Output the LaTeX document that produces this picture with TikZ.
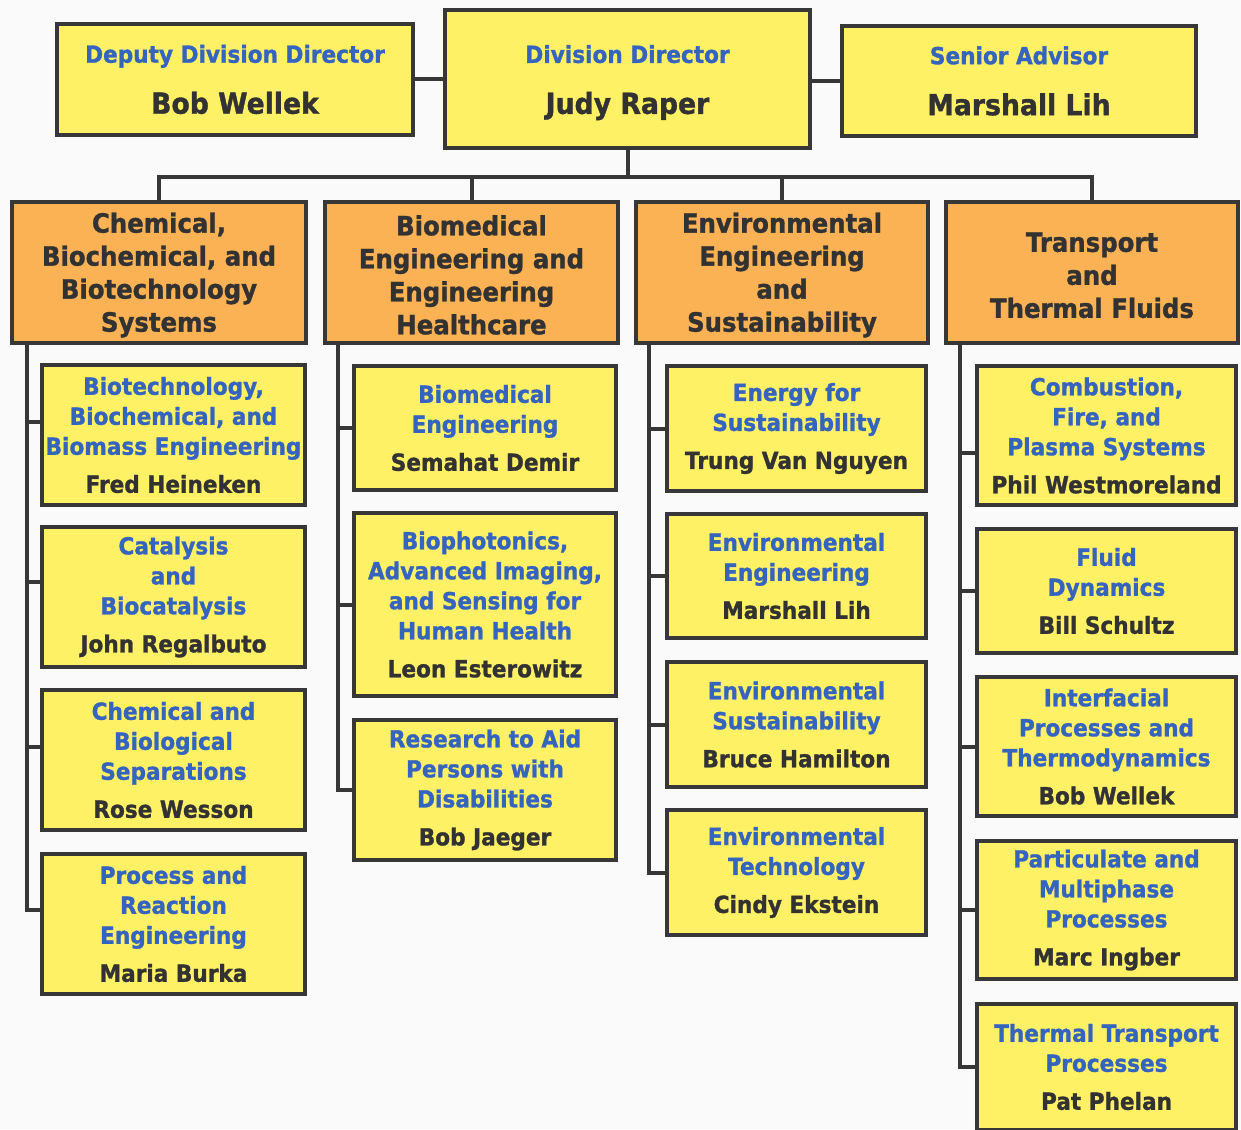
\documentclass[tikz,border=0pt]{standalone}
\usepackage{fontspec}
\setmainfont{DejaVu Sans}[FakeStretch=0.92, BoldFeatures={FakeBold=1.2}]
\definecolor{yel}{RGB}{255,241,102}
\definecolor{ora}{RGB}{250,178,84}
\definecolor{bluet}{RGB}{52,100,190}
\definecolor{darkt}{RGB}{50,50,50}
\definecolor{linec}{RGB}{55,55,55}
\definecolor{bgc}{RGB}{250,250,250}
\newcommand\ttl[1]{\textcolor{bluet}{#1}}
\tikzset{
  box/.style={draw=linec, line width=4.5pt, rectangle, inner sep=2pt, align=center, text=darkt,
    font=\bfseries\fontsize{23.5}{30}\selectfont},
  ybox/.style={box, fill=yel},
  topbox/.style={box, fill=yel, font=\bfseries\fontsize{23.5}{51}\selectfont},
  obox/.style={box, fill=ora, font=\bfseries\fontsize{26.5}{33}\selectfont},
  conn/.style={draw=linec, line width=4pt},
  c1/.style={ybox, minimum width=263pt},
  c2/.style={ybox, minimum width=262pt},
  c3/.style={ybox, minimum width=259pt},
  c4/.style={ybox, minimum width=259pt},
}
\begin{document}
\begin{tikzpicture}[x=1pt,y=-1pt]
\useasboundingbox (0,0) rectangle (1241,1129);
\fill[bgc] (0,0) rectangle (1241,1129);
\clip (0,0) rectangle (1241,1129);

% top row
\node[topbox, minimum width=356pt, minimum height=111pt] (dep) at (235,79.5)
  {\ttl{Deputy Division Director}\\{\fontsize{29}{35}\selectfont Bob Wellek}};
\node[topbox, minimum width=365pt, minimum height=138pt] (dir) at (627.5,79)
  {\rule{0pt}{25pt}\ttl{Division Director}\\{\fontsize{29}{35}\selectfont Judy Raper}};
\node[topbox, minimum width=354pt, minimum height=110pt] (sen) at (1019,81)
  {\ttl{Senior Advisor}\\{\fontsize{29}{35}\selectfont Marshall Lih}};

% divisions
\node[obox, minimum width=294pt, minimum height=141pt] (chem) at (159,272.5)
  {\rule{0pt}{25pt}Chemical,\\Biochemical, and\\Biotechnology\\Systems};
\node[obox, minimum width=293pt, minimum height=141pt] (bme) at (471.5,272.5)
  {\rule{0pt}{25pt}Biomedical\\Engineering and\\Engineering\\Healthcare};
\node[obox, minimum width=292pt, minimum height=141pt] (env) at (782,272.5)
  {\rule{0pt}{25pt}Environmental\\Engineering\\and\\Sustainability};
\node[obox, minimum width=292pt, minimum height=141pt] (ttf) at (1092,272.5)
  {\rule{0pt}{25pt}Transport\\and\\Thermal Fluids};

% column 1
\node[c1, minimum height=140pt] (a1) at (173.5,435)
  {\ttl{Biotechnology,}\\\ttl{Biochemical, and}\\\ttl{Biomass Engineering}\\[8pt]Fred Heineken};
\node[c1, minimum height=140pt] (a2) at (173.5,597)
  {\ttl{Catalysis}\\\ttl{and}\\\ttl{Biocatalysis}\\[8pt]John Regalbuto};
\node[c1, minimum height=140pt] (a3) at (173.5,760)
  {\ttl{Chemical and}\\\ttl{Biological}\\\ttl{Separations}\\[8pt]Rose Wesson};
\node[c1, minimum height=140pt] (a4) at (173.5,924)
  {\ttl{Process and}\\\ttl{Reaction}\\\ttl{Engineering}\\[8pt]Maria Burka};

% column 2
\node[c2, minimum height=124pt] (b1) at (485,428)
  {\ttl{Biomedical}\\\ttl{Engineering}\\[8pt]Semahat Demir};
\node[c2, minimum height=183pt] (b2) at (485,604.5)
  {\ttl{Biophotonics,}\\\ttl{Advanced Imaging,}\\\ttl{and Sensing for}\\\ttl{Human Health}\\[8pt]Leon Esterowitz};
\node[c2, minimum height=140pt] (b3) at (485,790)
  {\ttl{Research to Aid}\\\ttl{Persons with}\\\ttl{Disabilities}\\[8pt]Bob Jaeger};

% column 3
\node[c3, minimum height=125pt] (e1) at (796.5,428.5)
  {\ttl{Energy for}\\\ttl{Sustainability}\\[8pt]Trung Van Nguyen};
\node[c3, minimum height=124pt] (e2) at (796.5,576)
  {\ttl{Environmental}\\\ttl{Engineering}\\[8pt]Marshall Lih};
\node[c3, minimum height=125pt] (e3) at (796.5,724.5)
  {\ttl{Environmental}\\\ttl{Sustainability}\\[8pt]Bruce Hamilton};
\node[c3, minimum height=125pt] (e4) at (796.5,872.5)
  {\ttl{Environmental}\\\ttl{Technology}\\[8pt]Cindy Ekstein};

% column 4
\node[c4, minimum height=139pt] (t1) at (1106.5,435.5)
  {\ttl{Combustion,}\\\ttl{Fire, and}\\\ttl{Plasma Systems}\\[8pt]Phil Westmoreland};
\node[c4, minimum height=124pt] (t2) at (1106.5,591)
  {\ttl{Fluid}\\\ttl{Dynamics}\\[8pt]Bill Schultz};
\node[c4, minimum height=139pt] (t3) at (1106.5,746.5)
  {\ttl{Interfacial}\\\ttl{Processes and}\\\ttl{Thermodynamics}\\[8pt]Bob Wellek};
\node[c4, minimum height=138pt] (t4) at (1106.5,910)
  {\ttl{Particulate and}\\\ttl{Multiphase}\\\ttl{Processes}\\[8pt]Marc Ingber};
\node[c4, minimum height=126pt] (t5) at (1106.5,1067)
  {\ttl{Thermal Transport}\\\ttl{Processes}\\[8pt]Pat Phelan};

% top connectors
\draw[conn] (dep.east) -- (dir.west |- dep.east);
\draw[conn] (dir.east |- sen.west) -- (sen.west);
\coordinate (bus) at (627.5,177);
\draw[conn] (dir.south) -- (bus);
\draw[conn] (chem.north) |- (bus);
\draw[conn] (bme.north) |- (bus);
\draw[conn] (env.north) |- (bus);
\draw[conn] (ttf.north) |- (bus);

% spines
\coordinate (s1) at ([xshift=17pt]chem.south west);
\coordinate (s2) at ([xshift=15pt]bme.south west);
\coordinate (s3) at ([xshift=15pt]env.south west);
\coordinate (s4) at ([xshift=16pt]ttf.south west);

\coordinate (k1) at ([yshift=13pt]a1.west);
\coordinate (k2) at ([yshift=15pt]a2.west);
\coordinate (k3) at ([yshift=13pt]a3.west);
\coordinate (k4) at ([yshift=14pt]a4.west);
\draw[conn] (s1) |- (k4);
\foreach \k in {k1,k2,k3} \draw[conn] (s1 |- \k) -- (\k);

\draw[conn] (s2) |- (b3.west);
\foreach \k in {b1,b2} \draw[conn] (s2 |- \k.west) -- (\k.west);

\draw[conn] (s3) |- (e4.west);
\foreach \k in {e1,e2,e3} \draw[conn] (s3 |- \k.west) -- (\k.west);

\coordinate (m1) at ([yshift=-17pt]t1.west);
\draw[conn] (s4) |- (t5.west);
\draw[conn] (s4 |- m1) -- (m1);
\foreach \k in {t2,t3,t4} \draw[conn] (s4 |- \k.west) -- (\k.west);
\end{tikzpicture}
\end{document}
